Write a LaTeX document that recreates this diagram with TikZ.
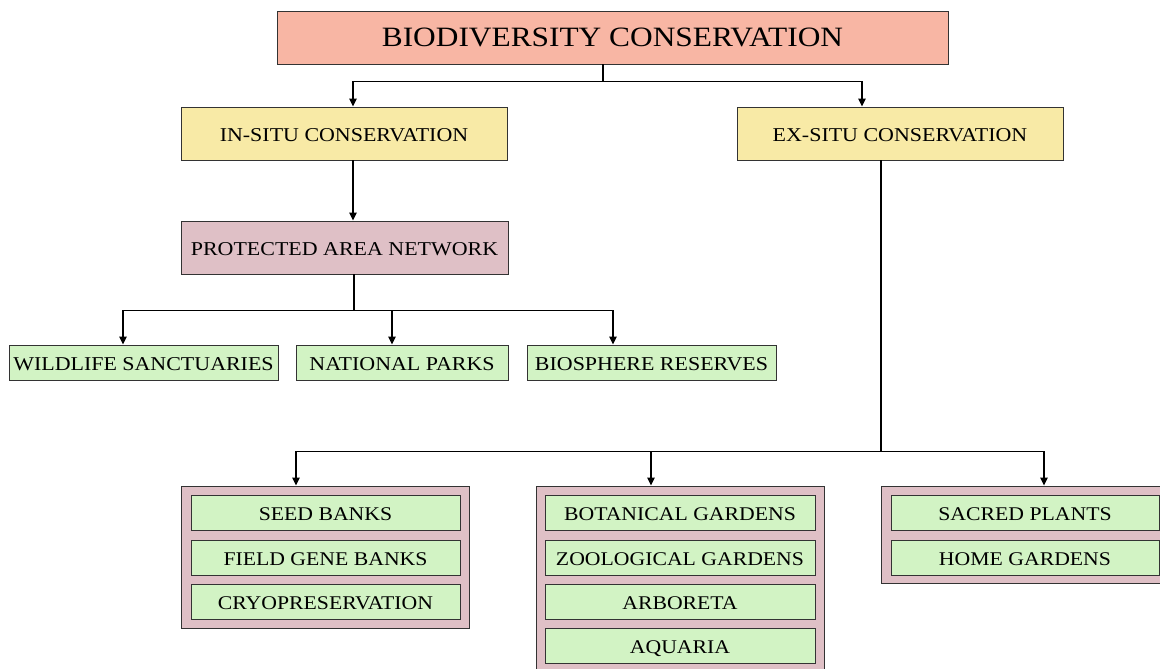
\documentclass[tikz,border=0pt]{standalone}
\usepackage{fontspec}
\setmainfont{Liberation Serif}
\newfontfamily\widefont[FakeStretch=1.12]{Liberation Serif}
\usetikzlibrary{arrows.meta}
\definecolor{salmonc}{HTML}{F8B6A4}
\definecolor{yellowc}{HTML}{F8EAA6}
\definecolor{pinkc}{HTML}{DFC0C6}
\definecolor{greenc}{HTML}{D2F3C4}
\definecolor{edgec}{HTML}{333333}
\begin{document}
\begin{tikzpicture}[x=1pt,y=-1pt,
  box/.style={draw=edgec, line width=0.9pt, inner sep=0pt, anchor=center},
  smalltext/.style={text height=15.5pt, text depth=0pt},
  bigbox/.style={box, fill=salmonc, font=\widefont\fontsize{28}{28}\selectfont},
  midbox/.style={box, smalltext, fill=yellowc, font=\widefont\fontsize{19.6}{20}\selectfont, minimum height=53},
  netbox/.style={box, smalltext, fill=pinkc, font=\widefont\fontsize{19.6}{20}\selectfont, minimum height=53},
  leafbox/.style={box, smalltext, fill=greenc, font=\widefont\fontsize{19.6}{20}\selectfont, minimum height=35},
  groupbox/.style={box, fill=pinkc},
  itembox/.style={box, smalltext, fill=greenc, font=\widefont\fontsize{19.4}{20}\selectfont, minimum height=35},
  conn/.style={line width=1.3pt, black},
  arr/.style={conn, -{Triangle[length=8pt,width=7.5pt]}}]
\useasboundingbox (0,0) rectangle (1160,669);

\node[bigbox, minimum width=671, minimum height=53] (bio) at (612.5,37.5) {BIODIVERSITY CONSERVATION};
\node[midbox, minimum width=326] (insitu) at (344,133.5) {IN-SITU CONSERVATION};
\node[midbox, minimum width=326] (exsitu) at (900,133.5) {EX-SITU CONSERVATION};
\node[netbox, minimum width=327] (prot) at (344.5,247.5) {PROTECTED AREA NETWORK};
\node[leafbox, minimum width=269] (wild) at (143.5,362.5) {WILDLIFE SANCTUARIES};
\node[leafbox, minimum width=212] (natp) at (402,362.5) {NATIONAL PARKS};
\node[leafbox, minimum width=249] (bios) at (651.5,362.5) {BIOSPHERE RESERVES};

\node[groupbox, minimum width=288, minimum height=142] (g1) at (325,557) {};
\node[itembox, minimum width=269] (seed) at (325.5,512.5) {SEED BANKS};
\node[itembox, minimum width=269] (field) at (325.5,557.5) {FIELD GENE BANKS};
\node[itembox, minimum width=269] (cryo) at (325.5,601.5) {CRYOPRESERVATION};

\node[groupbox, minimum width=288, minimum height=186] (g2) at (680,579) {};
\node[itembox, minimum width=270] (bot) at (680,512.5) {BOTANICAL GARDENS};
\node[itembox, minimum width=270] (zoo) at (680,557.5) {ZOOLOGICAL GARDENS};
\node[itembox, minimum width=270] (arb) at (680,601.5) {ARBORETA};
\node[itembox, minimum width=270] (aqu) at (680,645.5) {AQUARIA};

\node[groupbox, minimum width=289, minimum height=97] (g3) at (1025.5,534.5) {};
\node[itembox, minimum width=268] (sac) at (1025,512.5) {SACRED PLANTS};
\node[itembox, minimum width=268] (home) at (1025,557.5) {HOME GARDENS};

\draw[conn] ([xshift=-9.5]bio.south) -- ++(0,17) coordinate (j1);
\draw[arr] (j1) -| ([xshift=9]insitu.north);
\draw[arr] (j1) -| ([xshift=-38]exsitu.north);

\draw[arr] ([xshift=9]insitu.south) -- ([xshift=9]insitu.south |- prot.north);

\draw[conn] ([xshift=9.5]prot.south) -- ++(0,36) coordinate (j2);
\draw[arr] (j2) -| ([xshift=-20.5]wild.north);
\draw[arr] (j2) -| ([xshift=-10]natp.north);
\draw[arr] (j2) -| ([xshift=-38.5]bios.north);

\draw[conn] ([xshift=-19]exsitu.south) -- ++(0,291) coordinate (j3);
\draw[arr] (j3) -| ([xshift=-29]g1.north);
\draw[arr] (j3) -| ([xshift=-29]g2.north);
\draw[arr] (j3) -| ([xshift=18.5]g3.north);
\end{tikzpicture}
\end{document}
